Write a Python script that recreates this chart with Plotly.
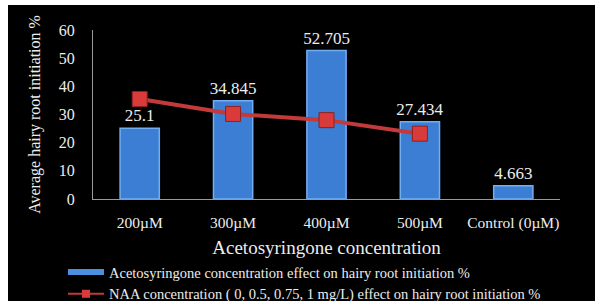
import plotly.graph_objects as go

categories = ["200µM", "300µM", "400µM", "500µM", "Control (0µM)"]
aceto_values = [25.1, 34.845, 52.705, 27.434, 4.663]
aceto_labels = ["25.1", "34.845", "52.705", "27.434", "4.663"]
naa_categories = ["200µM", "300µM", "400µM", "500µM"]
naa_values = [35.5, 30.2, 28.0, 23.2]

y_ticks = [0, 10, 20, 30, 40, 50, 60]

name_bar = "Acetosyringone concentration effect on hairy root initiation %"
name_line = "NAA concentration ( 0, 0.5, 0.75, 1 mg/L) effect on hairy root initiation %"

FONT = "Liberation Serif"
TXT = "#EDEDED"

fig = go.Figure()

fig.add_trace(go.Bar(
    x=categories, y=aceto_values,
    text=aceto_labels, textposition="outside", constraintext="none",
    textfont=dict(family=FONT, size=17, color=TXT),
    marker=dict(color="#3B7ED3", line=dict(color="#74AEF2", width=1.5)),
    width=0.42, showlegend=False, cliponaxis=False,
))
fig.add_trace(go.Scatter(
    x=naa_categories, y=naa_values, mode="lines+markers", showlegend=False,
    line=dict(color="#C23A3A", width=4),
    marker=dict(symbol="square", size=15, color="#D93B3B",
                line=dict(color="#8E1F1F", width=1)),
))
# legend entries (symbols styled like the reference legend)
fig.add_trace(go.Scatter(
    x=[None], y=[None], mode="lines", name=name_bar,
    line=dict(color="#4A8FE0", width=6),
))
fig.add_trace(go.Scatter(
    x=[None], y=[None], mode="lines+markers", name=name_line,
    line=dict(color="#C23A3A", width=2),
    marker=dict(symbol="square", size=8, color="#D93B3B"),
))

L, R, T, B = 93, 35, 30, 106
W, H = 595, 305
pw, ph = W - L - R, H - T - B

def px_x(p):
    return (p - L) / pw

def px_y(p):
    return (H - B - p) / ph

fig.add_shape(type="rect", xref="paper", yref="paper",
              x0=px_x(8), x1=px_x(596), y0=px_y(301), y1=px_y(5),
              fillcolor="black", line=dict(width=0), layer="below")

fig.update_layout(
    width=W, height=H,
    margin=dict(l=L, r=R, t=T, b=B, autoexpand=False),
    paper_bgcolor="white", plot_bgcolor="rgba(0,0,0,0)",
    font=dict(family=FONT, color=TXT, size=14),
    legend=dict(
        x=px_x(63), y=px_y(256), xanchor="left", yanchor="top",
        bgcolor="rgba(0,0,0,0)", font=dict(family=FONT, size=14.5, color=TXT),
        itemwidth=36, tracegroupgap=0, borderwidth=0,
    ),
    xaxis=dict(
        type="category", categoryorder="array", categoryarray=categories,
        showline=True, linecolor="#9A9A9A", linewidth=1, showgrid=False,
        ticks="", tickfont=dict(family=FONT, size=15.5, color=TXT),
        ticklabelstandoff=9, automargin=False,
        title=dict(text="Acetosyringone concentration",
                   font=dict(family=FONT, size=19, color=TXT), standoff=10),
    ),
    yaxis=dict(
        range=[0, 60], tickvals=y_ticks, showline=True, linecolor="#9A9A9A",
        linewidth=1, showgrid=False, zeroline=False, ticks="",
        tickfont=dict(family=FONT, size=16, color=TXT), ticklabelstandoff=14,
        automargin=False,
        title=dict(text="Average hairy root initiation %",
                   font=dict(family=FONT, size=16, color=TXT), standoff=14),
    ),
)

fig.write_html("out.html", config={"displayModeBar": False},
               post_script="document.body.style.margin='0';")
